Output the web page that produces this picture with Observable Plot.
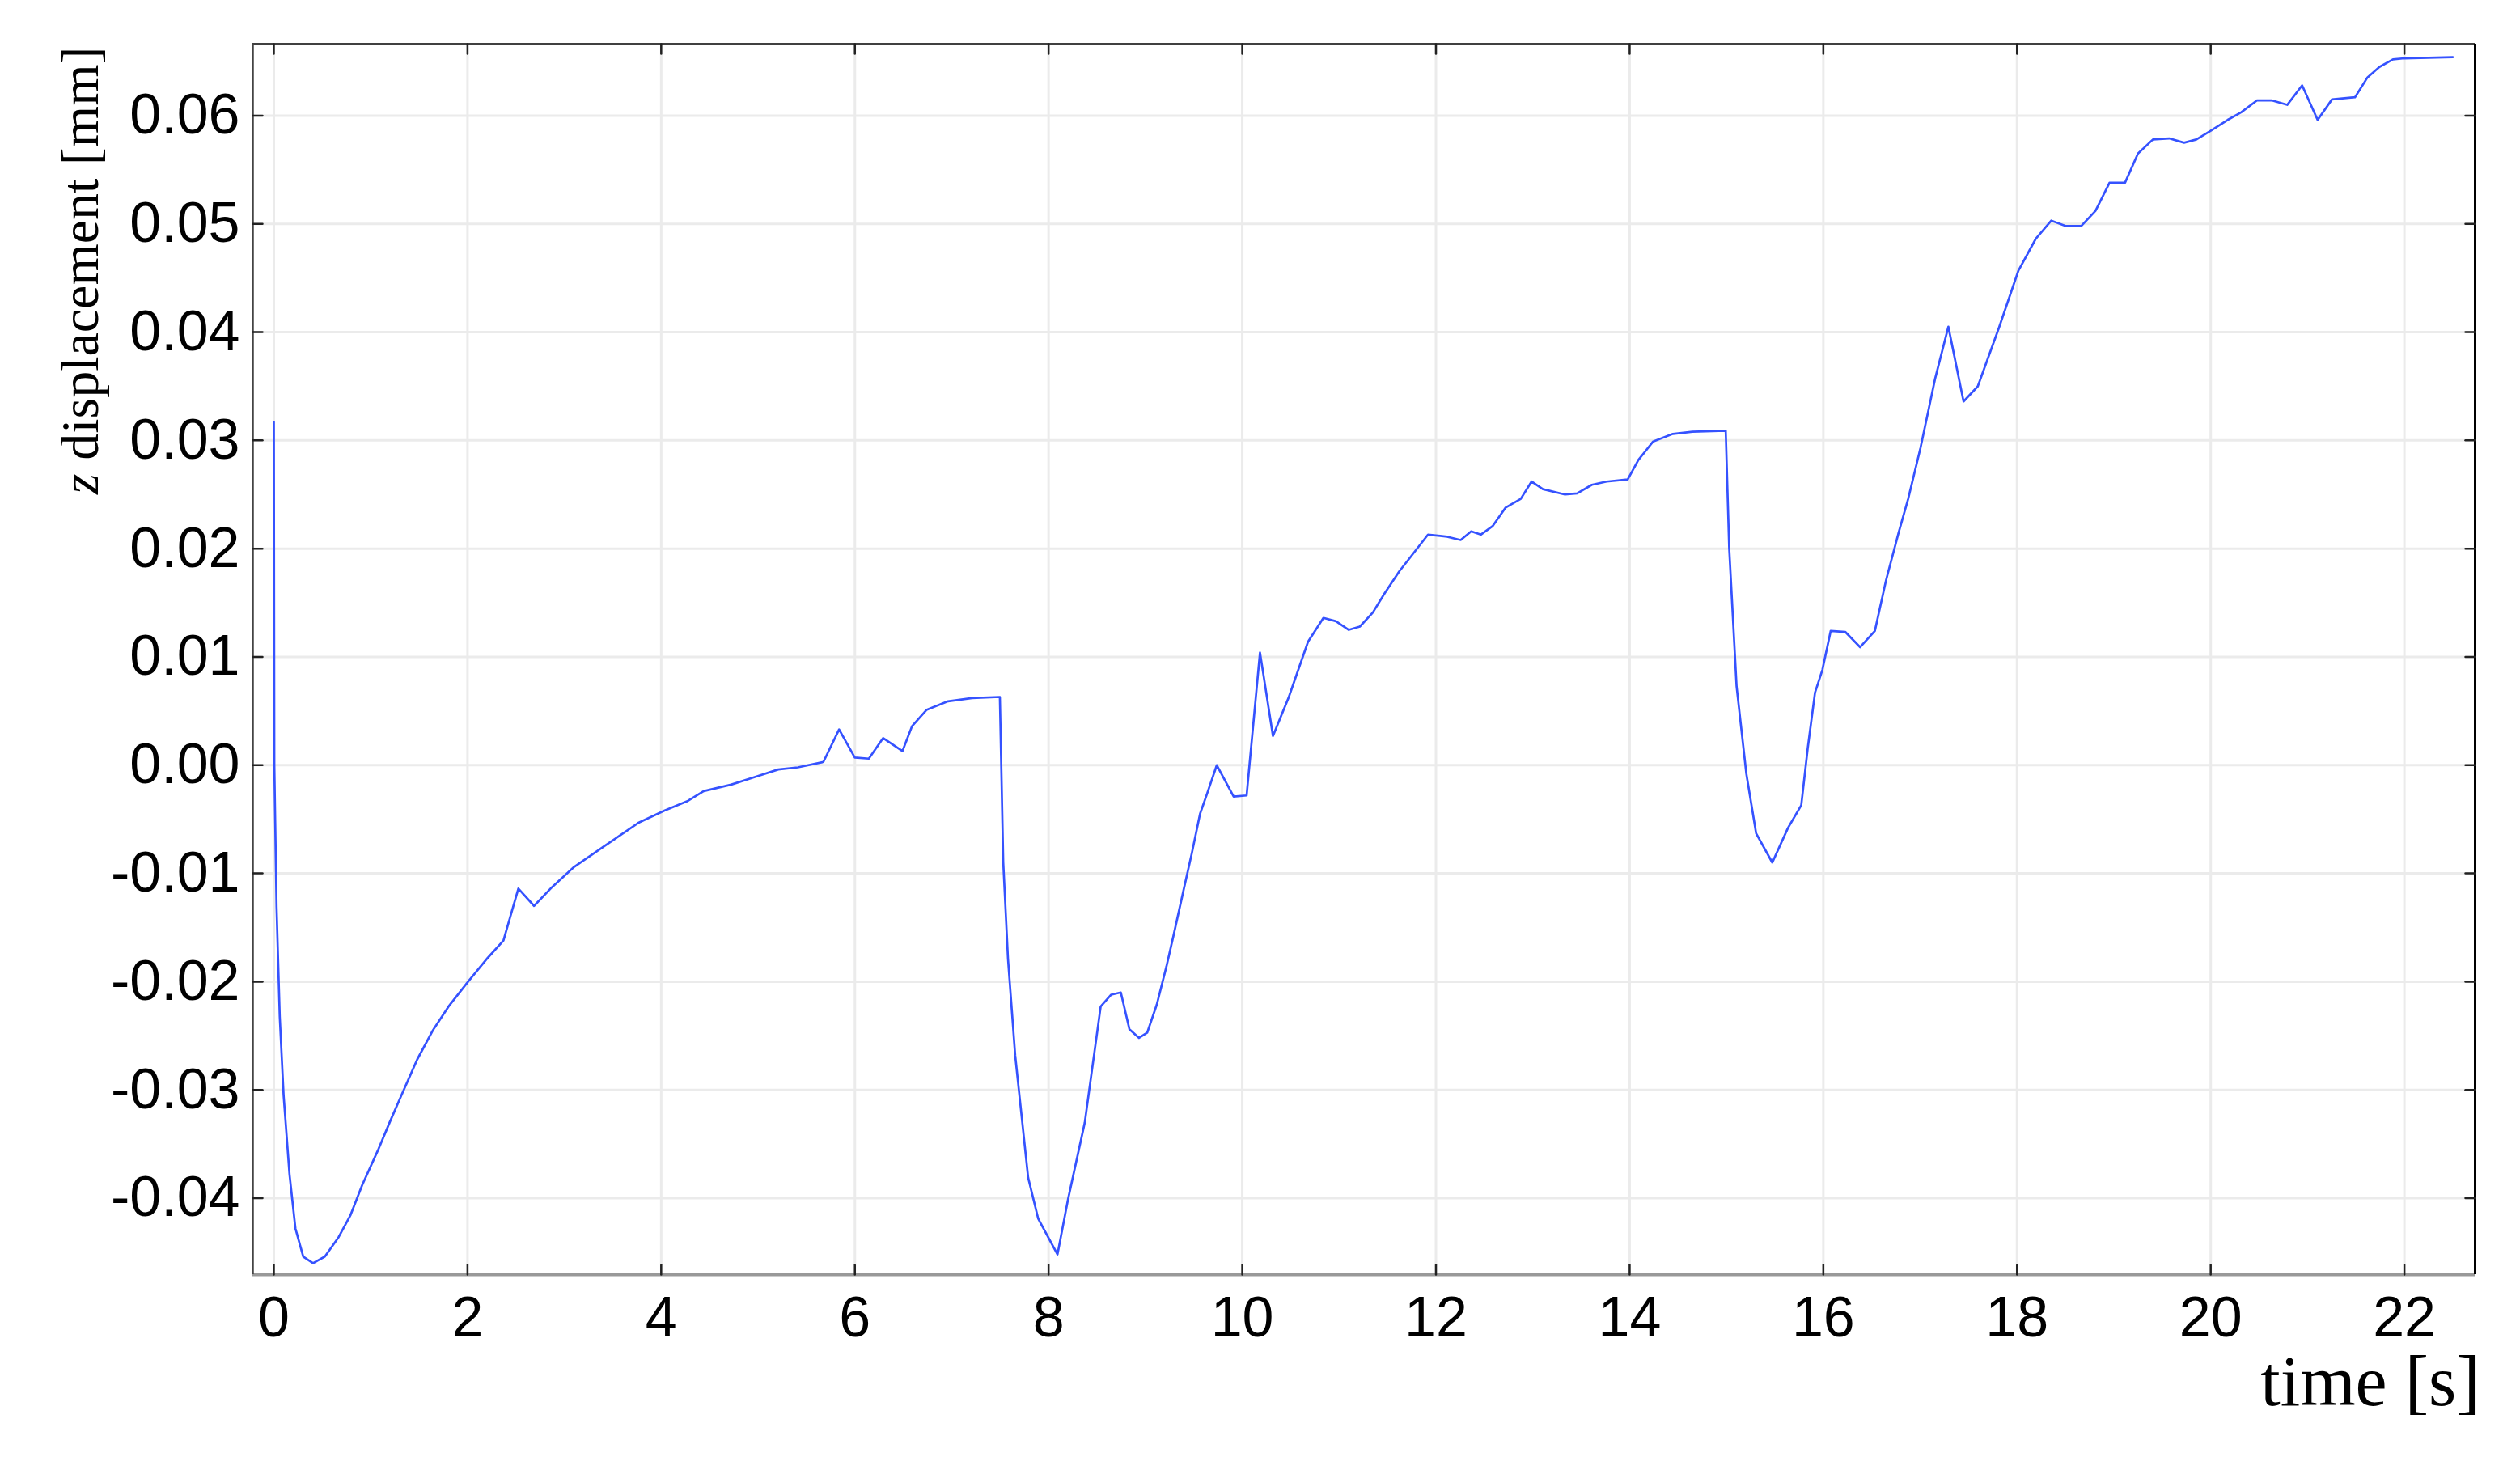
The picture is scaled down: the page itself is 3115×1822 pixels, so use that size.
<!DOCTYPE html>
<html><head><meta charset="utf-8">
<script src="https://cdn.jsdelivr.net/npm/d3@7"></script>
<script src="https://cdn.jsdelivr.net/npm/@observablehq/plot@0.6"></script>
<style>html,body{margin:0;padding:0;background:#fff;} #chart svg{display:block}</style>
</head><body><div id="chart"></div>
<script>
const time = [
  0, 0.005, 0.028, 0.061, 0.101, 0.162, 0.223, 0.304, 0.405, 0.527,
  0.669, 0.790, 0.912, 1.074, 1.196, 1.317, 1.480, 1.642, 1.804, 2.006,
  2.209, 2.371, 2.525, 2.687, 2.858, 3.101, 3.425, 3.770, 4.033, 4.276,
  4.439, 4.722, 4.966, 5.209, 5.411, 5.675, 5.837, 5.999, 6.144, 6.292,
  6.491, 6.590, 6.739, 6.962, 7.209, 7.497, 7.532, 7.581, 7.655, 7.789,
  7.893, 8.092, 8.201, 8.374, 8.538, 8.647, 8.746, 8.835, 8.934, 9.019,
  9.118, 9.217, 9.291, 9.390, 9.480, 9.564, 9.638, 9.737, 9.911, 10.045,
  10.183, 10.317, 10.481, 10.679, 10.838, 10.967, 11.100, 11.214, 11.348, 11.472,
  11.621, 11.770, 11.918, 12.116, 12.255, 12.364, 12.463, 12.587, 12.720, 12.876,
  12.987, 13.104, 13.332, 13.458, 13.610, 13.762, 13.980, 14.091, 14.243, 14.446,
  14.648, 14.992, 15.028, 15.104, 15.205, 15.306, 15.473, 15.635, 15.772, 15.838,
  15.914, 15.990, 16.076, 16.228, 16.380, 16.532, 16.648, 16.775, 16.876, 17.003,
  17.154, 17.291, 17.448, 17.595, 17.813, 18.015, 18.192, 18.354, 18.506, 18.663,
  18.810, 18.955, 19.115, 19.249, 19.403, 19.571, 19.725, 19.852, 20.000, 20.174,
  20.314, 20.476, 20.636, 20.790, 20.944, 21.104, 21.252, 21.490, 21.616, 21.742,
  21.882, 22.000, 22.499
];
const displacement = [
  0.0317, 0.0000, -0.0131, -0.0232, -0.0305, -0.0378, -0.0428, -0.0454, -0.0460, -0.0454,
  -0.0436, -0.0416, -0.0388, -0.0356, -0.0330, -0.0305, -0.0272, -0.0245, -0.0223, -0.0200,
  -0.0178, -0.0162, -0.0114, -0.0130, -0.0114, -0.0094, -0.0074, -0.0053, -0.0042, -0.0033,
  -0.0024, -0.0018, -0.0011, -0.0004, -0.0002, 0.0003, 0.0033, 0.0007, 0.0006, 0.0025,
  0.0013, 0.0036, 0.0051, 0.0059, 0.0062, 0.0063, -0.0090, -0.0179, -0.0268, -0.0381,
  -0.0419, -0.0452, -0.0401, -0.0330, -0.0223, -0.0212, -0.0210, -0.0244, -0.0252, -0.0247,
  -0.0221, -0.0186, -0.0157, -0.0117, -0.0081, -0.0045, -0.0026, 0.0000, -0.0029, -0.0028,
  0.0104, 0.0027, 0.0063, 0.0114, 0.0136, 0.0133, 0.0125, 0.0128, 0.0141, 0.0159,
  0.0179, 0.0196, 0.0213, 0.0211, 0.0208, 0.0216, 0.0213, 0.0221, 0.0238, 0.0246,
  0.0262, 0.0255, 0.0250, 0.0251, 0.0259, 0.0262, 0.0264, 0.0282, 0.0299, 0.0306,
  0.0308, 0.0309, 0.0200, 0.0073, -0.0008, -0.0063, -0.0090, -0.0058, -0.0037, 0.0015,
  0.0067, 0.0088, 0.0124, 0.0123, 0.0109, 0.0124, 0.0171, 0.0214, 0.0246, 0.0293,
  0.0357, 0.0405, 0.0336, 0.0350, 0.0404, 0.0457, 0.0486, 0.0503, 0.0498, 0.0498,
  0.0512, 0.0538, 0.0538, 0.0565, 0.0578, 0.0579, 0.0575, 0.0578, 0.0586, 0.0596,
  0.0603, 0.0614, 0.0614, 0.0610, 0.0628, 0.0596, 0.0615, 0.0617, 0.0635, 0.0645,
  0.0652, 0.0653, 0.0654
];
const xTicks = [0, 2, 4, 6, 8, 10, 12, 14, 16, 18, 20, 22];
const xTickLabels = ["0", "2", "4", "6", "8", "10", "12", "14", "16", "18", "20", "22"];
const yTicks = [-0.04, -0.03, -0.02, -0.01, 0, 0.01, 0.02, 0.03, 0.04, 0.05, 0.06];
const yTickLabels = ["-0.04", "-0.03", "-0.02", "-0.01", "0.00", "0.01", "0.02", "0.03", "0.04", "0.05", "0.06"];
const xDomain = [-0.217, 22.73];
const yDomain = [-0.04706, 0.06661];
const xTitle = "time [s]";
const yTitleSymbol = "z";
const yTitleRest = " displacement [mm]";

const data = time.map((t, i) => ({t, v: displacement[i]}));
const tickShape = {draw(ctx, l) { ctx.moveTo(0, 0); ctx.lineTo(0, -l); }};
const serif = "'Liberation Serif', 'Times New Roman', serif";
const tickStyle = {length: 12, anchor: "start", shape: tickShape, stroke: "#222", strokeWidth: 2.5};

const chart = Plot.plot({
  width: 3115,
  height: 1822,
  marginLeft: 312,
  marginRight: 56,
  marginTop: 54,
  marginBottom: 247,
  style: {fontFamily: "'Liberation Sans', Arial, sans-serif", background: "#fff", color: "#000", overflow: "visible"},
  x: {domain: xDomain},
  y: {domain: yDomain},
  marks: [
    Plot.gridX(xTicks, {stroke: "#ebebeb", strokeOpacity: 1, strokeWidth: 3}),
    Plot.gridY(yTicks, {stroke: "#ebebeb", strokeOpacity: 1, strokeWidth: 3}),
    Plot.line(data, {x: "t", y: "v", stroke: "#3552ff", strokeWidth: 2.7, strokeLinejoin: "round"}),
    Plot.ruleY([yDomain[1]], {stroke: "#000", strokeWidth: 2.5}),
    Plot.ruleY([yDomain[0]], {stroke: "#999", strokeWidth: 4}),
    Plot.ruleX([xDomain[0]], {stroke: "#444", strokeWidth: 2.5}),
    Plot.ruleX([xDomain[1]], {stroke: "#000", strokeWidth: 3}),
    Plot.vector(xTicks, {x: d => d, frameAnchor: "bottom", rotate: 0, ...tickStyle}),
    Plot.vector(xTicks, {x: d => d, frameAnchor: "top", rotate: 180, ...tickStyle}),
    Plot.vector(yTicks, {y: d => d, frameAnchor: "left", rotate: 90, ...tickStyle}),
    Plot.vector(yTicks, {y: d => d, frameAnchor: "right", rotate: 270, ...tickStyle}),
    Plot.axisX(xTicks, {anchor: "bottom", tickSize: 0, tickPadding: 27, fontSize: 70, label: null,
      tickFormat: d => xTickLabels[xTicks.indexOf(d)]}),
    Plot.axisY(yTicks, {anchor: "left", tickSize: 0, tickPadding: 16, fontSize: 70, label: null,
      tickFormat: d => yTickLabels[yTicks.indexOf(d)]}),
    Plot.text([yTitleSymbol + yTitleRest], {text: d => d, frameAnchor: "top-left", rotate: -90, textAnchor: "end",
      lineAnchor: "middle", dx: -213, dy: 3, fontSize: 66, fontFamily: serif, fill: "#000", className: "ytitle"}),
    Plot.text([xTitle], {text: d => d, frameAnchor: "bottom-right", textAnchor: "end",
      lineAnchor: "middle", dx: 6, dy: 133, fontSize: 88, fontFamily: serif, fill: "#000"})
  ]
});
// italic symbol "z" in the y-axis title
d3.select(chart).selectAll("g.ytitle text").each(function() {
  const t = d3.select(this);
  t.text(null);
  t.append("tspan").attr("font-style", "italic").text(yTitleSymbol);
  t.append("tspan").text(yTitleRest);
});
document.getElementById("chart").appendChild(chart);
</script>
</body></html>
